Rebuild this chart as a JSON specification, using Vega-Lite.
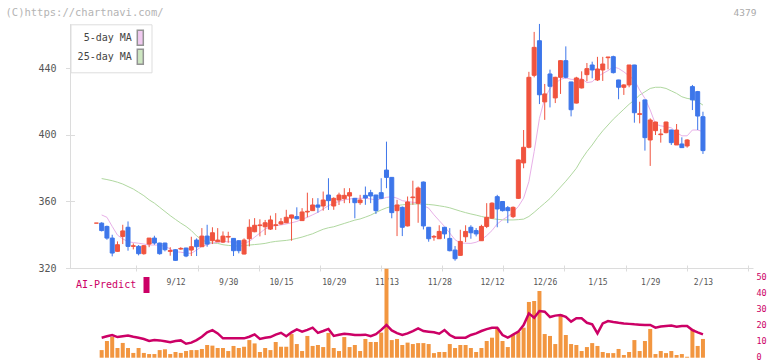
{
  "$schema": "https://vega.github.io/schema/vega-lite/v6.json",
  "width": 683,
  "height": 348,
  "autosize": {"type": "none"},
  "padding": {"left": 70, "top": 10, "right": 19, "bottom": 3},
  "background": "white",
  "config": {
    "view": {"stroke": null},
    "font": "DejaVu Sans Mono",
    "axis": {"grid": false, "labelFont": "DejaVu Sans Mono", "titleFont": "DejaVu Sans Mono"},
    "legend": {"labelFont": "DejaVu Sans Mono"}
  },
  "data": {"values": [
    {"i":0,"o":347,"h":347,"l":347,"c":347},
    {"i":1,"o":347,"h":347.5,"l":342,"c":342.5,"v":4.8,"ai":12.6,"m5":351.9,"m25":373.8},
    {"i":2,"o":345,"h":345.5,"l":337,"c":338,"v":10.5,"ai":13.5,"m5":350.5,"m25":373.2},
    {"i":3,"o":338,"h":340,"l":327,"c":329,"v":13.2,"ai":14.3,"m5":345,"m25":372.5},
    {"i":4,"o":330,"h":336,"l":329.8,"c":334,"v":6.1,"ai":13.0,"m5":339.8,"m25":371.6},
    {"i":5,"o":339,"h":346,"l":334.4,"c":342.3,"v":9.3,"ai":13.5,"m5":337.5,"m25":370.5},
    {"i":6,"o":344.5,"h":348,"l":330.4,"c":333,"v":6.1,"ai":13.9,"m5":335.8,"m25":369},
    {"i":7,"o":333,"h":334.8,"l":331.2,"c":333.4,"v":3.0,"ai":13.2,"m5":335.3,"m25":367.5},
    {"i":8,"o":333,"h":333.8,"l":327.6,"c":328.6,"v":6.1,"ai":12.6,"m5":334.9,"m25":365.5},
    {"i":9,"o":328.6,"h":333.8,"l":328,"c":333.4,"v":3.0,"ai":11.8,"m5":334.4,"m25":363.5},
    {"i":10,"o":334.4,"h":338,"l":332.5,"c":338,"v":2.3,"ai":10.5,"m5":333.8,"m25":361},
    {"i":11,"o":338,"h":339.4,"l":334,"c":335,"v":2.3,"ai":11.2,"m5":333.8,"m25":359},
    {"i":12,"o":335,"h":335.2,"l":328,"c":328.6,"v":4.8,"ai":10.9,"m5":333.8,"m25":356.5},
    {"i":13,"o":335,"h":335.2,"l":330,"c":331,"v":5.3,"ai":10.3,"m5":333,"m25":354},
    {"i":14,"o":330,"h":332.5,"l":327.4,"c":330.5,"v":2.3,"ai":9.7,"m5":331.5,"m25":351.5},
    {"i":15,"o":331,"h":331.2,"l":324.4,"c":324.6,"v":3.6,"ai":10.5,"m5":329.8,"m25":349.2},
    {"i":16,"o":331.4,"h":332.5,"l":331,"c":331.8,"v":3.0,"ai":10.9,"m5":329.5,"m25":347},
    {"i":17,"o":332,"h":332.2,"l":326.5,"c":327.2,"v":4.2,"ai":8.8,"m5":329,"m25":345},
    {"i":18,"o":330.8,"h":338.8,"l":327.2,"c":332.8,"v":4.8,"ai":9.5,"m5":328.8,"m25":342.5},
    {"i":19,"o":336.8,"h":337.8,"l":327.2,"c":332.8,"v":4.8,"ai":11.1,"m5":330.8,"m25":339.3},
    {"i":20,"o":332.8,"h":344,"l":332.8,"c":339.2,"v":5.5,"ai":13.2,"m5":333,"m25":337},
    {"i":21,"o":339.2,"h":346,"l":332.8,"c":334.4,"v":8.0,"ai":16.0,"m5":334,"m25":335.5},
    {"i":22,"o":336.4,"h":344.5,"l":334.4,"c":341.2,"v":7.6,"ai":17.4,"m5":335,"m25":335},
    {"i":23,"o":335.8,"h":344,"l":335.8,"c":336.8,"v":6.1,"ai":15.3,"m5":335.5,"m25":334.8},
    {"i":24,"o":335.6,"h":342,"l":335,"c":339.2,"v":6.1,"ai":12.2,"m5":335.8,"m25":334},
    {"i":25,"o":338.6,"h":341.8,"l":335.2,"c":339,"v":4.2,"ai":12.2,"m5":335.8,"m25":333.6},
    {"i":26,"o":337.8,"h":338,"l":327.2,"c":330.4,"v":7.4,"ai":12.2,"m5":335.5,"m25":333.3},
    {"i":27,"o":336.4,"h":336.6,"l":328.8,"c":330.4,"v":6.1,"ai":12.2,"m5":334.9,"m25":333.2},
    {"i":28,"o":328.4,"h":337.8,"l":328.2,"c":336.8,"v":6.9,"ai":12.2,"m5":334.9,"m25":333.4},
    {"i":29,"o":337.6,"h":349.3,"l":333,"c":344.5,"v":11.1,"ai":13.2,"m5":336,"m25":333.8},
    {"i":30,"o":341.8,"h":350,"l":341.5,"c":345.7,"v":9.0,"ai":14.7,"m5":338.5,"m25":334.1},
    {"i":31,"o":345.5,"h":349.3,"l":339,"c":345.9,"v":3.6,"ai":11.8,"m5":341,"m25":334.4},
    {"i":32,"o":344.8,"h":348.9,"l":339.8,"c":347.2,"v":6.1,"ai":12.6,"m5":343.5,"m25":334.8},
    {"i":33,"o":343.4,"h":351.5,"l":342.9,"c":348.9,"v":4.8,"ai":13.0,"m5":344.8,"m25":335.5},
    {"i":34,"o":345.6,"h":353,"l":342.9,"c":346,"v":9.9,"ai":14.5,"m5":345.5,"m25":336},
    {"i":35,"o":346.5,"h":350,"l":346,"c":347.8,"v":6.9,"ai":15.7,"m5":345.9,"m25":336.3},
    {"i":36,"o":347.2,"h":355,"l":347,"c":350.5,"v":6.9,"ai":13.5,"m5":346.5,"m25":336.6},
    {"i":37,"o":350,"h":352,"l":336.4,"c":351.9,"v":14.9,"ai":16.0,"m5":347.2,"m25":337.1},
    {"i":38,"o":350.9,"h":356.5,"l":349.2,"c":349.6,"v":8.6,"ai":17.8,"m5":348,"m25":337.8},
    {"i":39,"o":348.5,"h":356,"l":348.3,"c":353.7,"v":4.2,"ai":16.4,"m5":349.3,"m25":338.6},
    {"i":40,"o":353.7,"h":365.3,"l":350.5,"c":354.1,"v":13.7,"ai":17.5,"m5":350.5,"m25":339.6},
    {"i":41,"o":354.5,"h":362,"l":354.3,"c":357.9,"v":7.4,"ai":18.9,"m5":352,"m25":340.6},
    {"i":42,"o":357.9,"h":362,"l":353.3,"c":356.6,"v":8.0,"ai":15.6,"m5":353.5,"m25":342},
    {"i":43,"o":357.3,"h":366,"l":354.5,"c":360.9,"v":6.7,"ai":16.8,"m5":355.5,"m25":343.3},
    {"i":44,"o":363.9,"h":374,"l":354.9,"c":360.5,"v":15.6,"ai":18.1,"m5":357.5,"m25":344.2},
    {"i":45,"o":357.3,"h":362.5,"l":355,"c":361.9,"v":6.1,"ai":13.7,"m5":359,"m25":344.8},
    {"i":46,"o":360.9,"h":365.3,"l":357.9,"c":363.9,"v":4.2,"ai":14.5,"m5":360,"m25":345.8},
    {"i":47,"o":361.7,"h":368,"l":359,"c":363.7,"v":13.0,"ai":15.1,"m5":361,"m25":346.8},
    {"i":48,"o":363.3,"h":368,"l":359,"c":365.3,"v":6.7,"ai":14.8,"m5":361.5,"m25":347.8},
    {"i":49,"o":361.9,"h":362,"l":349.9,"c":359.3,"v":8.0,"ai":14.3,"m5":361.9,"m25":348.8},
    {"i":50,"o":359.3,"h":364,"l":358,"c":360.9,"v":4.2,"ai":14.3,"m5":361.9,"m25":349.5},
    {"i":51,"o":363.7,"h":369,"l":358,"c":362.1,"v":11.8,"ai":14.5,"m5":361.9,"m25":350.6},
    {"i":52,"o":365.3,"h":367,"l":359,"c":363.3,"v":9.9,"ai":13.5,"m5":361.5,"m25":351.8},
    {"i":53,"o":363.9,"h":364,"l":352.5,"c":354.5,"v":9.9,"ai":14.8,"m5":361,"m25":353.4},
    {"i":54,"o":365.3,"h":374,"l":361.5,"c":361.9,"v":15.8,"ai":17.5,"m5":361.5,"m25":354.9},
    {"i":55,"o":378.9,"h":396,"l":368,"c":374.5,"v":56,"ai":20.6,"m5":362.5,"m25":356.2},
    {"i":56,"o":374.5,"h":374.6,"l":349.9,"c":353.3,"v":11.1,"ai":17.2,"m5":362.9,"m25":357},
    {"i":57,"o":354.5,"h":361,"l":339.2,"c":357.9,"v":11.8,"ai":15.5,"m5":362,"m25":357.6},
    {"i":58,"o":356.5,"h":357,"l":339.2,"c":344.5,"v":8.0,"ai":14.3,"m5":360.5,"m25":358},
    {"i":59,"o":345.3,"h":363,"l":345,"c":359.7,"v":9.5,"ai":15.3,"m5":360,"m25":358.3},
    {"i":60,"o":362.3,"h":372.5,"l":358,"c":362.7,"v":8.6,"ai":16.8,"m5":359.5,"m25":358.5},
    {"i":61,"o":358.9,"h":369,"l":347.2,"c":368.1,"v":9.2,"ai":18.5,"m5":359.3,"m25":358.5},
    {"i":62,"o":371.7,"h":372,"l":343.2,"c":345.3,"v":9.2,"ai":16.8,"m5":357.5,"m25":358.4},
    {"i":63,"o":344.5,"h":344.6,"l":335.8,"c":337.6,"v":8.6,"ai":16.4,"m5":356,"m25":358.2},
    {"i":64,"o":338.6,"h":339.8,"l":336.4,"c":339,"v":2.9,"ai":16.0,"m5":352,"m25":357.9},
    {"i":65,"o":337.6,"h":345.7,"l":337.5,"c":342,"v":3.6,"ai":15.1,"m5":348.5,"m25":357.4},
    {"i":66,"o":344.5,"h":344.6,"l":337.6,"c":340.5,"v":3.6,"ai":17.4,"m5":345,"m25":356.9},
    {"i":67,"o":337.8,"h":344,"l":330,"c":330.4,"v":8.6,"ai":14.3,"m5":341,"m25":356.2},
    {"i":68,"o":330.8,"h":333.2,"l":324.4,"c":325.6,"v":6.1,"ai":12.6,"m5":337,"m25":355.2},
    {"i":69,"o":327.6,"h":343,"l":327.5,"c":336,"v":8.0,"ai":12.6,"m5":335,"m25":354.2},
    {"i":70,"o":338.8,"h":345.7,"l":335.6,"c":342,"v":8.0,"ai":12.6,"m5":334.9,"m25":353.3},
    {"i":71,"o":344.5,"h":345.7,"l":337.6,"c":341.2,"v":6.1,"ai":14.3,"m5":334.8,"m25":352.5},
    {"i":72,"o":342.5,"h":344,"l":339,"c":340.5,"v":3.6,"ai":15.3,"m5":335.5,"m25":351.8},
    {"i":73,"o":336.4,"h":346,"l":336.4,"c":345,"v":6.1,"ai":16.8,"m5":337,"m25":351},
    {"i":74,"o":345,"h":359,"l":344,"c":350.5,"v":10.5,"ai":18.0,"m5":339.5,"m25":350.3},
    {"i":75,"o":350,"h":359.5,"l":349.5,"c":359,"v":12.6,"ai":18.9,"m5":342.5,"m25":349.7},
    {"i":76,"o":362.9,"h":364,"l":344.5,"c":355.5,"v":18.9,"ai":18.9,"m5":346.5,"m25":349.3},
    {"i":77,"o":360,"h":360.2,"l":354,"c":354.5,"v":10.5,"ai":14.3,"m5":349,"m25":349},
    {"i":78,"o":356.3,"h":357.3,"l":347,"c":354.5,"v":6.7,"ai":12.6,"m5":351,"m25":348.9},
    {"i":79,"o":350.9,"h":357,"l":350,"c":356.5,"v":14.3,"ai":14.5,"m5":353.5,"m25":348.9},
    {"i":80,"o":361.9,"h":385.2,"l":361.5,"c":385,"v":16.2,"ai":16.4,"m5":357,"m25":349.1},
    {"i":81,"o":383.2,"h":403,"l":380,"c":392.6,"v":18.9,"ai":20.6,"m5":362,"m25":349.4},
    {"i":82,"o":392.6,"h":438,"l":392,"c":434.7,"v":35.1,"ai":27.9,"m5":372,"m25":351},
    {"i":83,"o":435.9,"h":462,"l":434.7,"c":452.7,"v":35.7,"ai":25.2,"m5":390,"m25":353.5},
    {"i":84,"o":456.7,"h":466.8,"l":418.6,"c":424.2,"v":42.0,"ai":29.4,"m5":410,"m25":356.3},
    {"i":85,"o":419.9,"h":430.7,"l":409.1,"c":424.7,"v":14.9,"ai":29.0,"m5":422,"m25":359},
    {"i":86,"o":436.7,"h":439.3,"l":416.6,"c":429.3,"v":13.7,"ai":25.6,"m5":428,"m25":361.8},
    {"i":87,"o":422.3,"h":435,"l":419.2,"c":434.7,"v":8.6,"ai":26.5,"m5":431,"m25":365.2},
    {"i":88,"o":434.7,"h":445,"l":424.7,"c":444.7,"v":27.3,"ai":26.9,"m5":433.5,"m25":368.7},
    {"i":89,"o":444.7,"h":453.3,"l":434,"c":434.7,"v":14.3,"ai":25.8,"m5":434.3,"m25":372.2},
    {"i":90,"o":431.9,"h":432,"l":411.2,"c":415.2,"v":8.6,"ai":22.7,"m5":433.5,"m25":376},
    {"i":91,"o":419.2,"h":435,"l":419,"c":434.3,"v":8.0,"ai":24.8,"m5":433.3,"m25":380},
    {"i":92,"o":428.3,"h":438.3,"l":428,"c":433.3,"v":4.2,"ai":24.8,"m5":434,"m25":385.4},
    {"i":93,"o":436.3,"h":443.3,"l":432.3,"c":439.9,"v":6.7,"ai":22.0,"m5":431.5,"m25":390},
    {"i":94,"o":442.1,"h":444.1,"l":434.1,"c":439.1,"v":9.2,"ai":21.0,"m5":432,"m25":394},
    {"i":95,"o":433.1,"h":447,"l":432.5,"c":439.7,"v":7.4,"ai":15.3,"m5":435,"m25":398.5},
    {"i":96,"o":439.1,"h":447,"l":432.5,"c":442.7,"v":3.6,"ai":21.6,"m5":437,"m25":402.5},
    {"i":97,"o":446.5,"h":447,"l":439.5,"c":446.9,"v":2.9,"ai":23.1,"m5":438.7,"m25":406},
    {"i":98,"o":447.1,"h":447.7,"l":437,"c":437.5,"v":2.9,"ai":22.5,"m5":441,"m25":409.5},
    {"i":99,"o":433.1,"h":433.2,"l":421.5,"c":428.7,"v":5.5,"ai":22.0,"m5":440,"m25":412.5},
    {"i":100,"o":428.7,"h":430.5,"l":424.1,"c":430.1,"v":1.7,"ai":21.6,"m5":438,"m25":415.5},
    {"i":101,"o":430.1,"h":442.1,"l":428.7,"c":442.1,"v":3.6,"ai":21.3,"m5":435.5,"m25":418.5},
    {"i":102,"o":442.1,"h":442.2,"l":407.4,"c":413.4,"v":11.1,"ai":21.0,"m5":433,"m25":421},
    {"i":103,"o":412.4,"h":420,"l":407,"c":412.8,"v":4.2,"ai":20.8,"m5":427,"m25":424},
    {"i":104,"o":421.1,"h":421.2,"l":390.6,"c":398.4,"v":10.5,"ai":20.6,"m5":422,"m25":426},
    {"i":105,"o":397,"h":410,"l":381.4,"c":409,"v":18.1,"ai":20.6,"m5":415,"m25":428},
    {"i":106,"o":402.6,"h":408,"l":400,"c":407.8,"v":2.3,"ai":18.9,"m5":406.5,"m25":428.7},
    {"i":107,"o":400.2,"h":403.6,"l":395.4,"c":400.6,"v":4.2,"ai":19.7,"m5":405.5,"m25":428.7},
    {"i":108,"o":401.4,"h":408,"l":401,"c":407.8,"v":2.9,"ai":20.0,"m5":405,"m25":428},
    {"i":109,"o":403,"h":403.2,"l":394,"c":395.4,"v":4.2,"ai":20.2,"m5":404.3,"m25":426.5},
    {"i":110,"o":394,"h":406.6,"l":394,"c":403,"v":1.7,"ai":19.5,"m5":401.5,"m25":425},
    {"i":111,"o":394.6,"h":398.6,"l":392.4,"c":392.4,"v":2.3,"ai":20.0,"m5":399.5,"m25":423},
    {"i":112,"o":393.4,"h":397.5,"l":392.4,"c":397,"v":0.6,"ai":20.0,"m5":399.5,"m25":422},
    {"i":113,"o":429.1,"h":430.1,"l":415,"c":421.1,"v":18.1,"ai":17.4,"m5":403,"m25":421.5},
    {"i":114,"o":426.1,"h":426.5,"l":403,"c":411.4,"v":7.4,"ai":16.0,"m5":403,"m25":420},
    {"i":115,"o":411,"h":414,"l":388.6,"c":390.6,"v":11.8,"ai":14.7,"m5":402,"m25":418}
  ]},
  "layer": [
    {
      "layer": [
        {
          "mark": {"type": "line", "strokeWidth": 1, "color": "#b0d8a0"},
          "encoding": {
            "x": {"field": "i", "type": "quantitative", "scale": {"domain": [-4.054, 123.54], "nice": false, "zero": false},
                  "axis": {"orient": "bottom", "offset": -93, "values": [7.585, 19.19, 30.77, 42.37, 53.95, 65.55, 77.14, 88.74, 100.32, 111.92, 123.5], "labels": false, "domain": false, "ticks": true, "tickSize": 6, "tickColor": "#dcdcdc", "title": null}},
            "y": {"field": "m25", "type": "quantitative", "scale": {"domain": [320, 467], "range": [258, 13.6], "nice": false, "zero": false},
                  "axis": {"orient": "left", "values": [320, 360, 400, 440], "labels": false, "domain": false, "ticks": true, "tickSize": 9, "offset": -4.5, "tickColor": "#dcdcdc", "title": null}}
          }
        },
        {
          "mark": {"type": "line", "strokeWidth": 1, "color": "#e8b0e8"},
          "encoding": {
            "x": {"field": "i", "type": "quantitative", "scale": {"domain": [-4.054, 123.54], "nice": false, "zero": false},
                  "axis": {"orient": "bottom", "offset": -93, "values": [7.585, 19.19, 30.77, 42.37, 53.95, 65.55, 77.14, 88.74, 100.32, 111.92, 123.5], "labels": false, "domain": false, "ticks": true, "tickSize": 6, "tickColor": "#dcdcdc", "title": null}},
            "y": {"field": "m5", "type": "quantitative", "axis": null}
          }
        },
        {
          "transform": [{"filter": "datum.i < 0"}],
          "mark": {"type": "square", "filled": true, "stroke": "#666666", "strokeWidth": 1},
          "encoding": {
            "x": {"field": "i", "type": "quantitative", "scale": {"domain": [-4.054, 123.54], "nice": false, "zero": false},
                  "axis": {"orient": "bottom", "offset": -93, "values": [7.585, 19.19, 30.77, 42.37, 53.95, 65.55, 77.14, 88.74, 100.32, 111.92, 123.5], "labels": false, "domain": false, "ticks": true, "tickSize": 6, "tickColor": "#dcdcdc", "title": null}},
            "y": {"field": "m5", "type": "quantitative", "axis": null},
            "fill": {"datum": "5-day MA", "scale": {"domain": ["5-day MA", "25-day MA"], "range": ["#ebb5eb", "#b8dca8"]},
                     "legend": {"orient": "none", "legendX": 0.5, "legendY": 14.3, "title": null,
                                "symbolType": "M-0.4,-1H0.4V1H-0.4Z", "symbolSize": 225, "symbolOffset": 56.3,
                                "labelOffset": -17, "labelAlign": "right", "labelFontSize": 10, "labelColor": "#444444",
                                "padding": 5, "rowPadding": -3, "strokeColor": "#dddddd", "fillColor": "#ffffff"}}
          }
        },
        {
          "mark": {"type": "rule", "strokeWidth": 1},
          "encoding": {
            "x": {"field": "i", "type": "quantitative", "scale": {"domain": [-4.054, 123.54], "nice": false, "zero": false},
                  "axis": {"orient": "bottom", "offset": -93, "values": [7.585, 19.19, 30.77, 42.37, 53.95, 65.55, 77.14, 88.74, 100.32, 111.92, 123.5], "labels": false, "domain": false, "ticks": true, "tickSize": 6, "tickColor": "#dcdcdc", "title": null}},
            "y": {"field": "l", "type": "quantitative", "axis": null},
            "y2": {"field": "h"},
            "color": {"condition": {"test": "datum.c >= datum.o", "value": "#f0533e"}, "value": "#3d76ea"}
          }
        },
        {
          "mark": {"type": "bar", "size": 4, "strokeWidth": 1},
          "encoding": {
            "x": {"field": "i", "type": "quantitative", "scale": {"domain": [-4.054, 123.54], "nice": false, "zero": false},
                  "axis": {"orient": "bottom", "offset": -93, "values": [7.585, 19.19, 30.77, 42.37, 53.95, 65.55, 77.14, 88.74, 100.32, 111.92, 123.5], "labels": false, "domain": false, "ticks": true, "tickSize": 6, "tickColor": "#dcdcdc", "title": null}},
            "y": {"field": "o", "type": "quantitative",
                  "axis": {"orient": "left", "values": [320, 360, 400, 440], "ticks": false, "tickSize": 0, "domain": true, "domainColor": "#dcdcdc", "labelPadding": 14, "labelFontSize": 10, "labelColor": "#555555",
                           "title": "(C)https://chartnavi.com/", "titleAngle": 0, "titleAlign": "left", "titleBaseline": "middle", "titleX": -65, "titleY": 2.5, "titleColor": "#b4b4b4", "titleFontSize": 10.5, "titleFontWeight": "normal"}},
            "y2": {"field": "c"},
            "color": {"condition": {"test": "datum.c >= datum.o", "value": "#f0533e"}, "value": "#3d76ea"},
            "stroke": {"condition": {"test": "datum.c >= datum.o", "value": "#f0533e"}, "value": "#3d76ea"}
          }
        }
      ],
      "resolve": {"axis": {"y": "independent"}}
    },
    {
      "layer": [
        {
          "mark": {"type": "bar", "size": 4, "color": "#f29640"},
          "encoding": {
            "x": {"field": "i", "type": "quantitative", "scale": {"domain": [-4.054, 123.54], "nice": false, "zero": false},
                  "axis": {"orient": "bottom", "offset": -90, "values": [15, 25, 35, 45, 55, 65, 75, 85, 95, 105, 115],
                           "labelExpr": "['9/12','9/30','10/15','10/29','11/13','11/28','12/12','12/26','1/15','1/29','2/13'][round((datum.value-15)/10)]",
                           "ticks": false, "tickSize": 0, "domain": true, "domainColor": "#dcdcdc", "labelPadding": 10, "labelFontSize": 8, "labelColor": "#555555", "labelFlush": false, "labelOverlap": false, "title": null}},
            "y": {"field": "v", "type": "quantitative", "scale": {"domain": [0, 50], "range": [347.7, 268.3], "nice": false, "zero": true},
                  "axis": {"orient": "right", "values": [0, 10, 20, 30, 40, 50], "domain": false, "ticks": false, "tickSize": 0, "labelPadding": 3, "labelFontSize": 8.5, "labelOffset": -1.5, "labelColor": "#cc0066",
                           "title": "4379", "titleAngle": 0, "titleX": -20, "titleY": 2, "titleAlign": "left", "titleBaseline": "middle", "titleColor": "#aaaaaa", "titleFontSize": 9.5, "titleFontWeight": "normal"}}
          }
        },
        {
          "mark": {"type": "line", "strokeWidth": 2.5},
          "encoding": {
            "x": {"field": "i", "type": "quantitative", "scale": {"domain": [-4.054, 123.54], "nice": false, "zero": false},
                  "axis": {"orient": "bottom", "offset": -90, "values": [15, 25, 35, 45, 55, 65, 75, 85, 95, 105, 115],
                           "labelExpr": "['9/12','9/30','10/15','10/29','11/13','11/28','12/12','12/26','1/15','1/29','2/13'][round((datum.value-15)/10)]",
                           "ticks": false, "tickSize": 0, "domain": true, "domainColor": "#dcdcdc", "labelPadding": 10, "labelFontSize": 8, "labelColor": "#555555", "labelFlush": false, "labelOverlap": false, "title": null}},
            "y": {"field": "ai", "type": "quantitative",
                  "axis": {"orient": "right", "values": [0, 10, 20, 30, 40, 50], "domain": false, "ticks": false, "tickSize": 0, "labelPadding": 3, "labelFontSize": 8.5, "labelOffset": -1.5, "labelColor": "#cc0066",
                           "title": "4379", "titleAngle": 0, "titleX": -20, "titleY": 2, "titleAlign": "left", "titleBaseline": "middle", "titleColor": "#aaaaaa", "titleFontSize": 9.5, "titleFontWeight": "normal"}},
            "color": {"datum": "AI-Predict", "scale": {"domain": ["AI-Predict"], "range": ["#cc0066"]},
                      "legend": {"orient": "none", "legendX": 6, "legendY": 267, "title": null,
                                 "symbolType": "M-0.375,-1H0.375V1H-0.375Z", "symbolSize": 256, "symbolOffset": 62.5,
                                 "symbolFillColor": "#cc0066", "symbolStrokeWidth": 0,
                                 "labelOffset": -18.3, "labelAlign": "right", "labelFontSize": 10, "labelColor": "#cc0066", "padding": 0}}
          }
        }
      ]
    }
  ],
  "resolve": {"scale": {"y": "independent", "color": "independent", "fill": "independent"}, "axis": {"x": "independent"}}
}
